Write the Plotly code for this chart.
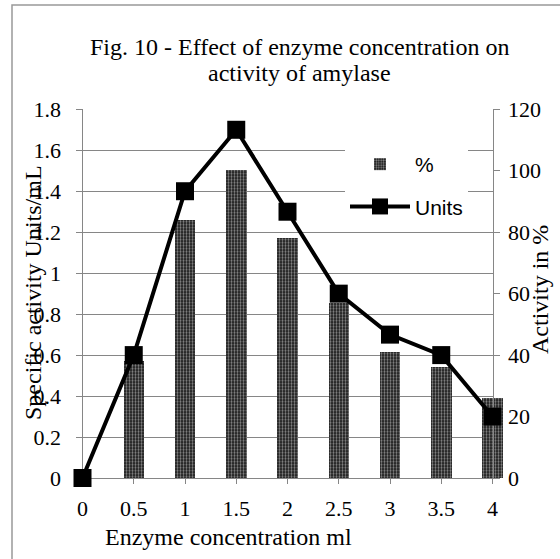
import plotly.graph_objects as go

# data
conc = [0, 0.5, 1, 1.5, 2, 2.5, 3, 3.5, 4]
units = [0, 0.6, 1.4, 1.7, 1.3, 0.9, 0.7, 0.6, 0.3]
percent = [0, 38, 84, 100, 78, 57, 41, 36, 26]

left_ticks = [0, 0.2, 0.4, 0.6, 0.8, 1, 1.2, 1.4, 1.6, 1.8]
right_ticks = [0, 20, 40, 60, 80, 100, 120]

W, H = 560, 559
serif = "Liberation Serif"
grey = "#868686"

# plot area in pixels
px0, px1 = 82.5, 492.5
py0, py1 = 109.3, 478
pad = 20.5  # bars at x=4 spill past the axis
unit_px = (px1 - px0) / 4

fig = go.Figure()

# empty trace so the main x/y axes (grid, lines, ticks) get drawn
fig.add_trace(go.Scatter(x=[], y=[], xaxis="x", yaxis="y",
                         showlegend=False, hoverinfo="skip"))

fig.add_trace(go.Bar(
    x=conc, y=percent, name="%", xaxis="x2", yaxis="y2", width=0.2,
    marker=dict(color="#111111", line=dict(width=0),
                pattern=dict(shape=".", fgcolor="white", bgcolor="#111111",
                             size=3, solidity=0.45)),
    legendgroup="a",
))
fig.add_trace(go.Scatter(
    x=conc, y=units, name="Units", xaxis="x2", yaxis="y3",
    mode="lines+markers", cliponaxis=False,
    line=dict(color="black", width=4),
    marker=dict(symbol="square", size=18, color="black"),
    legendgroup="b",
))

fig.update_layout(
    width=W, height=H,
    margin=dict(l=0, r=0, t=0, b=0, autoexpand=False),
    paper_bgcolor="white", plot_bgcolor="rgba(0,0,0,0)",
    font=dict(family=serif, size=22, color="black"),
    showlegend=True,
    xaxis=dict(
        domain=[px0 / W, px1 / W], range=[0, 4],
        tickvals=conc, ticktext=[str(c) for c in conc],
        showline=True, linecolor=grey, linewidth=1,
        ticks="outside", ticklen=5, tickcolor=grey,
        showgrid=False, zeroline=False, ticklabelstandoff=6,
        anchor="y",
    ),
    yaxis=dict(
        domain=[1 - py1 / H, 1 - py0 / H], range=[0, 1.8],
        tickvals=left_ticks, ticktext=[f"{t:g}" for t in left_ticks],
        showline=True, linecolor=grey, linewidth=1,
        ticks="outside", ticklen=6, tickcolor=grey,
        showgrid=True, gridcolor=grey, gridwidth=1,
        zeroline=False, ticklabelstandoff=10,
        anchor="x",
    ),
    xaxis2=dict(
        domain=[(px0 - pad) / W, (px1 + pad) / W],
        range=[-pad / unit_px, 4 + pad / unit_px],
        visible=False, anchor="y2",
    ),
    yaxis2=dict(
        overlaying="y", side="right", anchor="x", range=[0, 120],
        tickvals=right_ticks,
        showline=True, linecolor=grey, linewidth=1,
        ticks="outside", ticklen=6, tickcolor=grey,
        showgrid=False, zeroline=False, ticklabelstandoff=4,
    ),
    yaxis3=dict(overlaying="y", range=[0, 1.8], visible=False, anchor="x2"),
    legend=dict(
        x=345 / W, y=1 - 144 / H, xanchor="left", yanchor="top",
        bgcolor="white", borderwidth=0,
        font=dict(family="Liberation Sans", size=21),
        itemwidth=60, traceorder="grouped", tracegroupgap=12,
    ),
    bargap=0,
)

# title, two lines
fig.add_annotation(text="Fig. 10 - Effect of enzyme concentration on",
                   xref="paper", yref="paper", x=299 / W, y=1 - 47 / H,
                   yanchor="middle", showarrow=False, font=dict(size=24))
fig.add_annotation(text="activity of amylase",
                   xref="paper", yref="paper", x=299 / W, y=1 - 73 / H,
                   yanchor="middle", showarrow=False, font=dict(size=24))

# axis titles
fig.add_annotation(text="Specific activity Units/mL", textangle=-90,
                   xref="paper", yref="paper", x=33 / W, y=1 - 293 / H,
                   xanchor="center", yanchor="middle",
                   showarrow=False, font=dict(size=24))
fig.add_annotation(text="Activity in %", textangle=-90,
                   xref="paper", yref="paper", x=540 / W, y=1 - 290 / H,
                   xanchor="center", yanchor="middle",
                   showarrow=False, font=dict(size=24))
fig.add_annotation(text="Enzyme concentration ml",
                   xref="paper", yref="paper", x=228 / W, y=1 - 537 / H,
                   xanchor="center", yanchor="middle",
                   showarrow=False, font=dict(size=24))

# chart frame
fig.add_shape(type="rect", xref="paper", yref="paper",
              x0=12 / W, x1=1.02, y0=-0.02, y1=1 - 5 / H,
              line=dict(color="#999999", width=1.5), layer="below")

# page has a default 8px body margin; drop it so the figure sits at 0,0
fig.write_html("out.html", config={"displayModeBar": False},
               post_script="document.body.style.margin='0';")
